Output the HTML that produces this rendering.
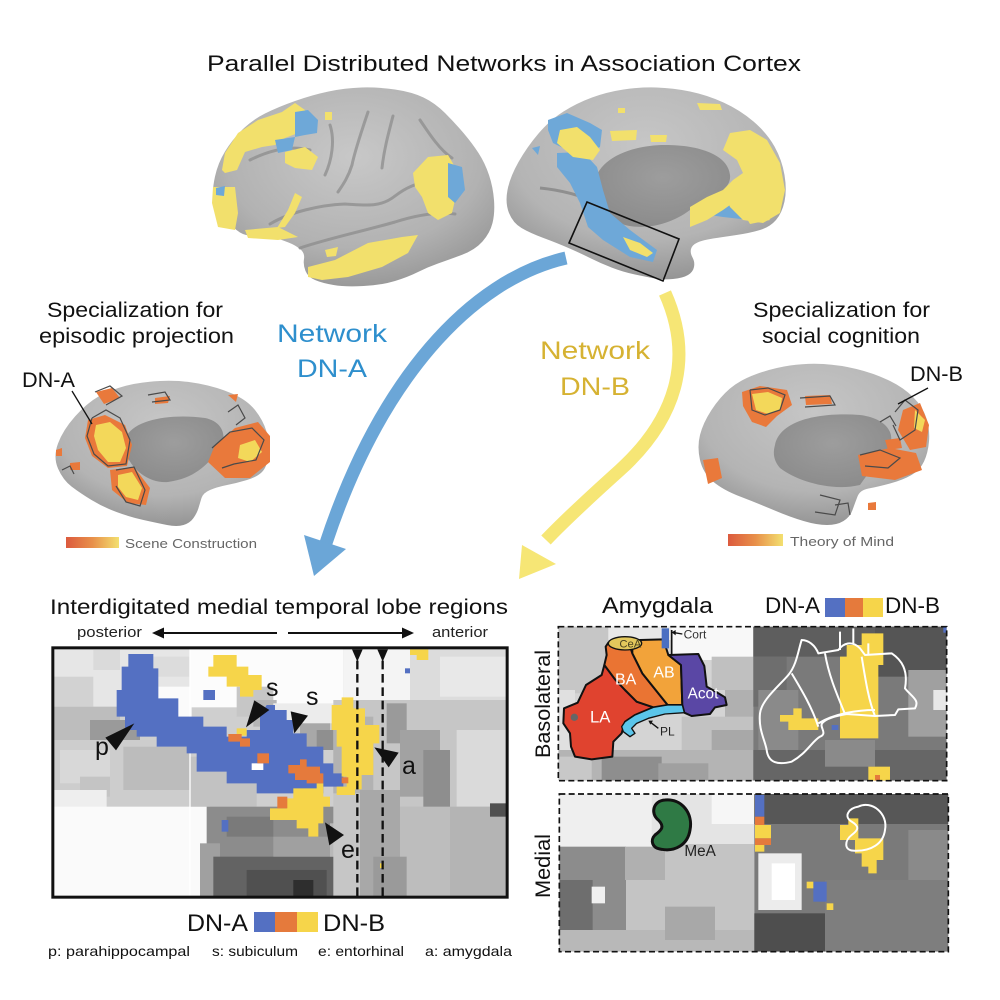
<!DOCTYPE html>
<html><head><meta charset="utf-8"><style>
html,body{margin:0;padding:0;background:#fff;}
svg{display:block;}
text{font-family:"Liberation Sans",sans-serif;}
</style></head><body>
<svg width="1000" height="1000" viewBox="0 0 1000 1000" xmlns="http://www.w3.org/2000/svg">
<defs>
<radialGradient id="bg1" cx="50%" cy="35%" r="70%">
<stop offset="0" stop-color="#c8c8c8"/><stop offset="0.65" stop-color="#b2b2b2"/><stop offset="1" stop-color="#939393"/>
</radialGradient>
<radialGradient id="bg2" cx="50%" cy="30%" r="70%">
<stop offset="0" stop-color="#c6c6c6"/><stop offset="0.7" stop-color="#b4b4b4"/><stop offset="1" stop-color="#959595"/>
</radialGradient>
<radialGradient id="mw" cx="50%" cy="40%" r="60%">
<stop offset="0" stop-color="#9d9d9d"/><stop offset="1" stop-color="#8c8c8c"/>
</radialGradient>
<linearGradient id="cb" x1="0" x2="1" y1="0" y2="0">
<stop offset="0" stop-color="#dc5a3e"/><stop offset="0.5" stop-color="#e8904a"/><stop offset="1" stop-color="#f3e070"/>
</linearGradient>
<clipPath id="c1"><rect x="40" y="172" width="1362" height="750"/></clipPath>
<clipPath id="c2"><rect x="100" y="110" width="1165" height="462"/></clipPath>
<clipPath id="c3"><rect x="103" y="42" width="1167" height="473"/></clipPath>
</defs>

<!-- Title -->
<text x="207" y="71" font-size="22" textLength="594" lengthAdjust="spacingAndGlyphs" fill="#111">Parallel Distributed Networks in Association Cortex</text>

<!-- Left lateral brain -->
<path d="M213.5,198.5 Q212,190 215,176.5 Q218,163 225,151.5 Q232,140 242,130 Q252,120 265,113.5 Q278,107 295,101 Q312,95 328.5,91.5 Q345,88 361.5,87.5 Q378,87 395,89.5 Q412,92 423.5,97.5 Q435,103 445,113 Q455,123 463.5,133 Q472,143 478.5,153 Q485,163 489,175 Q493,187 494,200 Q495,213 492.5,223 Q490,233 482.5,241.5 Q475,250 461.5,255 Q448,260 438,263.5 Q428,267 418,272 Q408,277 395,281 Q382,285 363.5,286 Q345,287 333.5,285 Q322,283 315,280 Q308,277 305.5,271 Q303,265 304,259 Q305,253 300,249 Q295,245 288.5,242.5 Q282,240 272,236.5 Q262,233 253.5,235 Q245,237 236.5,230 Q228,223 221.5,215 Q215,207 213.5,198.5 Z" fill="url(#bg1)"/>
<g fill="none" stroke="#8a8a8a" stroke-width="3" stroke-linecap="round" opacity="0.7">
<path d="M270,224 C290,212 320,205 345,204 C365,205 380,208 395,196 C408,186 420,182 430,183"/>
<path d="M368,112 C362,130 355,150 352,165 C348,178 342,186 338,192"/>
<path d="M393,116 C388,135 384,150 382,168"/>
<path d="M300,248 C330,238 360,232 395,222 C420,214 440,212 455,214"/>
<path d="M250,160 C270,150 290,145 310,150"/>
<path d="M330,125 C335,140 332,160 325,175"/>
<path d="M420,120 C430,135 440,150 452,158"/>
</g>
<g fill="#f2e06c">
<polygon points="222,170 225,153 238,133 258,120 282,112 295,103 305,110 305,123 298,133 285,138 275,145 262,147 245,152 237,170 225,173"/>
<polygon points="285,152 305,147 318,157 312,170 295,168 285,163"/>
<polygon points="325,112 332,112 332,120 325,120"/>
<polygon points="213,187 235,187 238,213 235,230 218,227 212,203"/>
<polygon points="295,193 302,197 295,213 285,227 277,228 288,210"/>
<polygon points="245,230 278,227 298,237 278,240 248,238"/>
<polygon points="413,173 428,157 448,155 455,167 458,187 452,213 438,220 428,213 422,197 415,187"/>
<polygon points="308,267 335,260 368,243 402,237 418,235 408,253 382,267 348,277 322,280 308,277"/>
<polygon points="325,250 338,247 336,256 327,257"/>
</g>
<g fill="#6ea8d8">
<polygon points="295,112 308,110 318,120 317,133 305,135 295,137"/>
<polygon points="275,140 295,137 292,150 278,153"/>
<polygon points="448,163 462,167 465,190 455,203 448,197"/>
<polygon points="216,188 225,186 224,196 216,195"/>
</g>

<!-- Right medial brain -->
<path d="M509,213 Q505,203 507.5,190 Q510,177 518.5,162 Q527,147 538.5,133.5 Q550,120 563.5,111.5 Q577,103 592,97.5 Q607,92 623.5,89.5 Q640,87 656.5,87.5 Q673,88 690,91.5 Q707,95 723.5,102.5 Q740,110 753.5,121.5 Q767,133 774.5,146.5 Q782,160 784.5,175 Q787,190 784.5,201.5 Q782,213 776,220 Q770,227 760,230 Q750,233 736.5,235 Q723,237 713,238.5 Q703,240 697.5,242.5 Q692,245 691,249 Q690,253 692.5,257.5 Q695,262 694,267 Q693,272 688,275 Q683,278 673,279 Q663,280 655,278.5 Q647,277 635,274.5 Q623,272 611.5,267.5 Q600,263 590,258 Q580,253 568.5,248 Q557,243 543.5,238 Q530,233 521.5,228 Q513,223 509,213 Z" fill="url(#bg2)"/>
<path d="M595,185 C595,160 630,145 665,145 C700,145 728,155 730,175 C732,192 705,200 690,210 C670,225 645,230 625,225 C605,218 595,205 595,185 Z" fill="url(#mw)"/>
<path d="M540,188 C560,190 580,195 597,203" fill="none" stroke="#7e7e7e" stroke-width="3" opacity="0.7"/>
<g fill="#6ea8d8">
<polygon points="548,120 567,113 590,123 602,130 600,147 587,153 567,150 553,143 548,130"/>
<polygon points="557,153 583,152 597,167 603,190 610,213 630,230 657,250 653,262 630,257 603,240 588,227 580,203 570,183 557,167"/>
<polygon points="697,203 723,193 750,197 773,203 773,217 750,220 723,217 697,213"/>
<polygon points="532,148 540,146 538,155"/>
</g>
<g fill="#f2e06c">
<polygon points="560,130 577,127 590,137 600,150 593,160 573,157 557,143"/>
<polygon points="610,131 637,130 636,140 612,141"/>
<polygon points="650,135 667,135 666,142 651,142"/>
<polygon points="618,108 625,108 625,113 618,113"/>
<polygon points="697,103 720,104 722,110 700,110"/>
<polygon points="730,133 750,130 767,140 780,163 785,190 780,213 763,223 743,220 730,207 723,190 733,180 743,173 737,160 723,150"/>
<polygon points="690,207 707,197 723,190 737,200 723,210 707,220 690,227"/>
<polygon points="742,210 760,208 770,220 750,224"/>
<polygon points="623,237 640,243 653,253 647,257 630,250"/>
</g>
<polygon points="587,202 679,239 663,281 569,243" fill="none" stroke="#111" stroke-width="1.6"/>

<!-- Arrows -->
<path d="M566,258 C470,280 380,380 326,543" fill="none" stroke="#6ba6d7" stroke-width="13"/>
<polygon points="304,535 346,549 314,576" fill="#6ba6d7"/>
<path d="M665,293 C695,360 675,420 620,470 C590,497 565,520 546,540" fill="none" stroke="#f6e675" stroke-width="13"/>
<polygon points="522,545 556,564 519,579" fill="#f6e675"/>

<text x="277" y="342" font-size="25" textLength="110" lengthAdjust="spacingAndGlyphs" fill="#2e8fcd">Network</text>
<text x="297" y="377" font-size="25" textLength="70" lengthAdjust="spacingAndGlyphs" fill="#2e8fcd">DN-A</text>
<text x="540" y="359" font-size="25" textLength="110" lengthAdjust="spacingAndGlyphs" fill="#d6b232">Network</text>
<text x="560" y="395" font-size="25" textLength="70" lengthAdjust="spacingAndGlyphs" fill="#d6b232">DN-B</text>

<!-- Left specialization -->
<text x="47" y="317" font-size="21" textLength="176" lengthAdjust="spacingAndGlyphs" fill="#111">Specialization for</text>
<text x="39" y="343" font-size="21" textLength="195" lengthAdjust="spacingAndGlyphs" fill="#111">episodic projection</text>
<path d="M58,468.5 Q53,457 58,443.5 Q63,430 75,416.5 Q87,403 98.5,396.5 Q110,390 125,386 Q140,382 160,381 Q180,380 198.5,383.5 Q217,387 232,393.5 Q247,400 255,410 Q263,420 266.5,431.5 Q270,443 268.5,455 Q267,467 262,472 Q257,477 247,480 Q237,483 227,485 Q217,487 210,490 Q203,493 201.5,498 Q200,503 198.5,508 Q197,513 193.5,518 Q190,523 183.5,525 Q177,527 167,525 Q157,523 143.5,520 Q130,517 116.5,512 Q103,507 91.5,500 Q80,493 71.5,486.5 Q63,480 58,468.5 Z" fill="url(#bg2)"/>
<path d="M125,440 C130,420 170,413 205,418 C225,422 228,440 218,452 C205,466 195,478 168,482 C145,484 122,462 125,440 Z" fill="url(#mw)"/>
<g fill="#e9793b">
<polygon points="88,420 105,415 125,425 132,445 127,466 108,468 92,456 85,438"/>
<polygon points="110,470 134,467 150,488 146,505 128,503 112,490"/>
<polygon points="215,445 235,428 258,422 270,436 270,462 250,478 225,478 208,462"/>
<polygon points="96,392 112,388 120,398 104,404"/>
<polygon points="56,450 62,448 62,456 56,456"/>
<polygon points="70,463 80,462 80,470 70,470"/>
<polygon points="155,398 170,396 168,403 155,404"/>
<polygon points="228,395 238,394 236,402"/>
</g>
<g fill="#f3d85a">
<polygon points="96,425 110,422 122,432 126,448 120,462 108,462 98,450 94,436"/>
<polygon points="118,475 132,472 142,488 138,500 126,497 118,487"/>
<polygon points="240,445 255,440 262,452 250,462 238,458"/>
</g>
<g fill="none" stroke="#4a4a4a" stroke-width="1.2">
<polyline points="92,418 106,410 120,418 130,440 126,464 108,466 94,454 87,436 92,418"/>
<polyline points="116,470 134,467 145,490 140,506 126,502 116,486"/>
<polyline points="212,448 230,432 252,428 264,440 256,460 234,464 222,468"/>
<polyline points="95,392 110,386 122,396 106,405"/>
<polyline points="148,395 165,392 170,400 152,402"/>
<polyline points="228,412 238,405 245,418 236,425"/>
<polyline points="62,470 70,466 74,474"/>
</g>
<line x1="72" y1="391" x2="92" y2="424" stroke="#111" stroke-width="1.3"/>
<text x="22" y="387" font-size="21" textLength="53" lengthAdjust="spacingAndGlyphs" fill="#111">DN-A</text>
<rect x="66" y="537" width="53" height="11" fill="url(#cb)"/>
<text x="125" y="548" font-size="13" textLength="132" lengthAdjust="spacingAndGlyphs" fill="#666">Scene Construction</text>

<!-- Right specialization -->
<text x="753" y="317" font-size="21" textLength="177" lengthAdjust="spacingAndGlyphs" fill="#111">Specialization for</text>
<text x="762" y="343" font-size="21" textLength="158" lengthAdjust="spacingAndGlyphs" fill="#111">social cognition</text>
<path d="M700,460 Q697,447 700,435 Q703,423 711.5,410 Q720,397 730,388.5 Q740,380 756.5,374 Q773,368 790,365.5 Q807,363 823.5,364 Q840,365 856.5,369 Q873,373 888,380 Q903,387 913,397 Q923,407 926.5,418.5 Q930,430 929,441.5 Q928,453 924,461.5 Q920,470 911.5,475 Q903,480 890,483.5 Q877,487 868.5,488.5 Q860,490 857.5,496.5 Q855,503 852.5,510 Q850,517 843.5,521 Q837,525 827,525 Q817,525 803.5,521 Q790,517 773.5,510 Q757,503 740,496.5 Q723,490 713,481.5 Q703,473 700,460 Z" fill="url(#bg2)"/>
<path d="M775,445 C780,420 820,412 860,415 C885,418 895,432 890,445 C880,460 870,470 860,485 C830,492 795,480 780,468 C773,460 773,452 775,445 Z" fill="url(#mw)"/>
<g fill="#e9793b">
<polygon points="742,392 760,386 787,390 792,405 777,416 766,427 752,422 743,406"/>
<polygon points="903,410 920,403 929,425 926,447 910,450 898,430"/>
<polygon points="858,455 890,448 916,453 922,470 895,480 862,476"/>
<polygon points="703,460 718,458 722,478 708,484"/>
<polygon points="805,396 830,395 832,404 806,405"/>
<polygon points="868,503 876,502 876,510 868,510"/>
<polygon points="885,440 900,438 902,448 888,450"/>
</g>
<g fill="#f3d85a">
<polygon points="752,394 768,392 782,398 780,410 768,414 756,410"/>
<polygon points="915,410 925,420 922,432 914,428"/>
</g>
<g fill="none" stroke="#4a4a4a" stroke-width="1.2">
<polyline points="750,390 768,388 785,395 780,410 765,415 752,410 750,390"/>
<polyline points="800,398 830,396 835,405 805,407"/>
<polyline points="895,412 905,400 918,410 915,430 900,440 893,425"/>
<polyline points="860,455 880,450 900,458 888,468 865,466"/>
<polyline points="820,495 840,500 835,515 815,512"/>
<polyline points="880,422 890,416 896,426"/>
<polyline points="835,505 848,503 850,515"/>
</g>
<line x1="928" y1="388" x2="898" y2="404" stroke="#111" stroke-width="1.3"/>
<text x="910" y="381" font-size="21" textLength="53" lengthAdjust="spacingAndGlyphs" fill="#111">DN-B</text>
<rect x="728" y="534" width="55" height="12" fill="url(#cb)"/>
<text x="790" y="546" font-size="13" textLength="104" lengthAdjust="spacingAndGlyphs" fill="#666">Theory of Mind</text>

<!-- Bottom-left MTL panel -->
<text x="50" y="614" font-size="21" textLength="458" lengthAdjust="spacingAndGlyphs" fill="#111">Interdigitated medial temporal lobe regions</text>
<text x="77" y="637" font-size="15" textLength="65" lengthAdjust="spacingAndGlyphs" fill="#222">posterior</text>
<text x="432" y="637" font-size="15" textLength="56" lengthAdjust="spacingAndGlyphs" fill="#222">anterior</text>
<line x1="162" y1="633" x2="277" y2="633" stroke="#111" stroke-width="2"/>
<polygon points="152,633 164,627.5 164,638.5" fill="#111"/>
<line x1="288" y1="633" x2="404" y2="633" stroke="#111" stroke-width="2"/>
<polygon points="414,633 402,627.5 402,638.5" fill="#111"/>

<g transform="translate(40,590) scale(0.33333)">
<g clip-path="url(#c1)">
<rect x="40" y="172" width="1362" height="750" fill="#cfcfcf"/>
<rect x="40" y="172" width="410" height="180" fill="#e6e6e6"/>
<rect x="40" y="260" width="120" height="90" fill="#d2d2d2"/>
<rect x="160" y="180" width="80" height="60" fill="#dadada"/>
<rect x="330" y="200" width="120" height="60" fill="#dcdcdc"/>
<rect x="450" y="172" width="460" height="180" fill="#fcfcfc"/>
<rect x="355" y="290" width="100" height="90" fill="#fbfbfb"/>
<rect x="590" y="290" width="110" height="90" fill="#c6c6c6"/>
<rect x="640" y="330" width="70" height="80" fill="#b5b5b5"/>
<rect x="700" y="340" width="180" height="60" fill="#ececec"/>
<rect x="780" y="400" width="90" height="80" fill="#a8a8a8"/>
<rect x="830" y="420" width="60" height="60" fill="#8f8f8f"/>
<rect x="40" y="350" width="200" height="100" fill="#bdbdbd"/>
<rect x="150" y="390" width="150" height="80" fill="#9a9a9a"/>
<rect x="40" y="450" width="420" height="200" fill="#cdcdcd"/>
<rect x="60" y="480" width="150" height="100" fill="#d8d8d8"/>
<rect x="250" y="470" width="200" height="130" fill="#bcbcbc"/>
<rect x="120" y="560" width="90" height="60" fill="#c4c4c4"/>
<rect x="40" y="600" width="160" height="60" fill="#eeeeee"/>
<rect x="40" y="650" width="470" height="272" fill="#fafafa"/>
<rect x="450" y="500" width="200" height="150" fill="#c2c2c2"/>
<rect x="500" y="650" width="460" height="272" fill="#8c8c8c"/>
<rect x="480" y="760" width="60" height="162" fill="#a0a0a0"/>
<rect x="560" y="680" width="140" height="60" fill="#7a7a7a"/>
<rect x="520" y="800" width="400" height="122" fill="#636363"/>
<rect x="620" y="840" width="240" height="82" fill="#505050"/>
<rect x="760" y="870" width="60" height="52" fill="#2e2e2e"/>
<rect x="700" y="740" width="250" height="60" fill="#a0a0a0"/>
<rect x="870" y="700" width="80" height="100" fill="#b8b8b8"/>
<rect x="910" y="172" width="200" height="160" fill="#f4f4f4"/>
<rect x="1110" y="172" width="292" height="160" fill="#dcdcdc"/>
<rect x="1200" y="200" width="200" height="120" fill="#e8e8e8"/>
<rect x="880" y="330" width="522" height="592" fill="#c6c6c6"/>
<rect x="880" y="380" width="120" height="230" fill="#b2b2b2"/>
<rect x="1040" y="340" width="60" height="120" fill="#9a9a9a"/>
<rect x="1080" y="420" width="120" height="200" fill="#a2a2a2"/>
<rect x="1150" y="480" width="80" height="180" fill="#8e8e8e"/>
<rect x="1250" y="420" width="152" height="230" fill="#dadada"/>
<rect x="1230" y="650" width="172" height="272" fill="#b4b4b4"/>
<rect x="1350" y="640" width="52" height="40" fill="#505050"/>
<rect x="960" y="600" width="120" height="322" fill="#a8a8a8"/>
<rect x="1080" y="650" width="150" height="272" fill="#bdbdbd"/>
<rect x="1000" y="800" width="100" height="122" fill="#9a9a9a"/>
<line x1="450" y1="172" x2="450" y2="922" stroke="#fff" stroke-width="4"/>

<!-- DN-A blue -->
<polygon fill="#5470c2" points="265,192 340,192 340,235 355,235 355,325 415,325 415,380 490,380 490,410 560,410 560,440 620,440 620,420 660,420 660,380 680,345 705,345 705,360 740,360 740,390 760,390 760,430 800,430 800,470 850,470 850,520 880,520 880,550 910,550 910,590 850,590 850,610 650,610 650,580 560,580 560,545 470,545 470,490 440,490 440,470 350,470 350,440 290,440 290,420 255,420 255,380 230,380 230,300 245,300 245,230 265,230"/>
<rect x="490" y="300" width="35" height="30" fill="#5470c2"/>
<rect x="545" y="690" width="20" height="35" fill="#5470c2"/>
<rect x="1095" y="235" width="15" height="15" fill="#5470c2"/>
<rect x="635" y="520" width="35" height="20" fill="#fff"/>
<!-- yellow DN-B -->
<g fill="#f6d54a">
<polygon points="520,195 590,195 590,230 625,230 625,255 665,255 665,300 640,300 640,320 600,320 600,290 560,290 560,260 505,260 505,230 520,230"/>
<polygon points="905,322 940,322 940,355 975,355 975,405 1018,405 1018,460 1000,460 1000,555 965,555 965,598 945,598 945,615 890,615 890,590 920,590 920,560 905,560 905,470 890,470 890,420 875,420 875,345 905,345"/>
<polygon points="760,595 830,595 830,580 850,580 850,620 870,620 870,650 850,650 850,700 835,700 835,740 805,740 805,715 770,715 770,690 690,690 690,655 740,655 740,625 760,625"/>
<polygon points="1110,178 1165,178 1165,210 1130,210 1130,195 1110,195"/>
<rect x="590" y="415" width="30" height="22"/>
<rect x="1020" y="820" width="12" height="14"/>
</g>
<!-- orange overlap -->
<g fill="#e57a3c">
<polygon points="565,432 605,432 605,445 630,445 630,470 600,470 600,455 565,455"/>
<rect x="652" y="490" width="35" height="30"/>
<polygon points="780,508 800,508 800,530 840,530 840,550 850,550 850,580 800,580 800,570 765,570 765,550 745,550 745,525 780,525"/>
<rect x="712" y="620" width="30" height="35"/>
<rect x="905" y="562" width="20" height="18"/>
</g>
<!-- dashed lines -->
<line x1="952" y1="212" x2="952" y2="922" stroke="#111" stroke-width="7" stroke-dasharray="26,14"/>
<line x1="1028" y1="212" x2="1028" y2="922" stroke="#111" stroke-width="7" stroke-dasharray="26,14"/>
<polygon points="936,178 968,178 952,215" fill="#111"/>
<polygon points="1012,178 1044,178 1028,215" fill="#111"/>
<!-- black pointer arrows -->
<g fill="#111">
<polygon points="283,400 196,443 228,481"/>
<polygon points="618,412 643,331 688,360"/>
<polygon points="763,430 752,364 804,377"/>
<polygon points="1003,472 1076,488 1046,532"/>
<polygon points="855,697 868,766 912,735"/>
</g>
</g>
<rect x="38.5" y="173.5" width="1363" height="748" fill="none" stroke="#111" stroke-width="9"/>
</g>
<text x="95" y="755" font-size="25" fill="#111">p</text>
<text x="266" y="696" font-size="25" fill="#111">s</text>
<text x="306" y="705" font-size="25" fill="#111">s</text>
<text x="402" y="774" font-size="25" fill="#111">a</text>
<text x="341" y="858" font-size="25" fill="#111">e</text>

<!-- bottom legend -->
<text x="187" y="931" font-size="24" textLength="61" lengthAdjust="spacingAndGlyphs" fill="#111">DN-A</text>
<rect x="254" y="912" width="21" height="20" fill="#5470c2"/>
<rect x="275" y="912" width="22" height="20" fill="#e57a3c"/>
<rect x="297" y="912" width="21" height="20" fill="#f6d54a"/>
<text x="323" y="931" font-size="24" textLength="62" lengthAdjust="spacingAndGlyphs" fill="#111">DN-B</text>
<text x="48" y="956" font-size="14" textLength="142" lengthAdjust="spacingAndGlyphs" fill="#111">p: parahippocampal</text>
<text x="212" y="956" font-size="14" textLength="86" lengthAdjust="spacingAndGlyphs" fill="#111">s: subiculum</text>
<text x="318" y="956" font-size="14" textLength="86" lengthAdjust="spacingAndGlyphs" fill="#111">e: entorhinal</text>
<text x="425" y="956" font-size="14" textLength="87" lengthAdjust="spacingAndGlyphs" fill="#111">a: amygdala</text>

<!-- Amygdala -->
<text x="602" y="613" font-size="22" textLength="111" lengthAdjust="spacingAndGlyphs" fill="#111">Amygdala</text>
<text x="765" y="613" font-size="22" textLength="55" lengthAdjust="spacingAndGlyphs" fill="#111">DN-A</text>
<rect x="825" y="598" width="20" height="19" fill="#5470c2"/>
<rect x="845" y="598" width="18" height="19" fill="#e57a3c"/>
<rect x="863" y="598" width="20" height="19" fill="#f6d54a"/>
<text x="885" y="613" font-size="22" textLength="55" lengthAdjust="spacingAndGlyphs" fill="#111">DN-B</text>
<text transform="translate(550,704) rotate(-90)" x="0" y="0" font-size="21" text-anchor="middle" textLength="108" lengthAdjust="spacingAndGlyphs" fill="#111">Basolateral</text>
<text transform="translate(550,866) rotate(-90)" x="0" y="0" font-size="21" text-anchor="middle" textLength="64" lengthAdjust="spacingAndGlyphs" fill="#111">Medial</text>

<g transform="translate(525,590) scale(0.33333)">
<g clip-path="url(#c2)">
<rect x="100" y="110" width="585" height="462" fill="#d4d4d4"/>
<rect x="100" y="110" width="150" height="200" fill="#c6c6c6"/>
<rect x="250" y="110" width="200" height="40" fill="#e8e8e8"/>
<rect x="440" y="110" width="245" height="100" fill="#f8f8f8"/>
<rect x="560" y="200" width="125" height="100" fill="#c0c0c0"/>
<rect x="600" y="300" width="85" height="180" fill="#b0b0b0"/>
<rect x="470" y="380" width="215" height="100" fill="#c2c2c2"/>
<rect x="100" y="300" width="50" height="200" fill="#e0e0e0"/>
<rect x="100" y="480" width="585" height="92" fill="#b4b4b4"/>
<rect x="230" y="500" width="180" height="72" fill="#8e8e8e"/>
<rect x="400" y="520" width="150" height="52" fill="#a0a0a0"/>
<rect x="100" y="500" width="100" height="72" fill="#c8c8c8"/>
<rect x="560" y="420" width="125" height="60" fill="#a8a8a8"/>
<rect x="685" y="110" width="580" height="462" fill="#7a7a7a"/>
<rect x="685" y="110" width="580" height="90" fill="#5e5e5e"/>
<rect x="1050" y="110" width="215" height="150" fill="#555"/>
<rect x="685" y="200" width="100" height="150" fill="#6e6e6e"/>
<rect x="700" y="300" width="120" height="180" fill="#8a8a8a"/>
<rect x="1150" y="240" width="115" height="200" fill="#a0a0a0"/>
<rect x="1225" y="300" width="40" height="60" fill="#e8e8e8"/>
<rect x="685" y="480" width="580" height="92" fill="#666"/>
<rect x="900" y="450" width="150" height="80" fill="#8a8a8a"/>
<!-- nuclei -->
<g stroke="#111" stroke-width="6" stroke-linejoin="round">
<polygon fill="#e0432f" points="238,225 270,268 300,300 335,335 385,352 330,375 300,395 290,430 265,455 262,500 200,508 150,500 138,470 135,430 115,400 117,355 158,338 183,285 230,255"/>
<polygon fill="#ea7433" points="250,158 310,155 322,190 352,250 392,300 428,345 385,352 335,335 300,300 270,268 238,225 245,195 242,170"/>
<polygon fill="#f2a33a" points="322,165 345,150 415,148 430,195 468,225 472,345 428,345 392,300 352,250 322,190"/>
<polygon fill="#5a47a5" points="430,195 520,192 538,228 545,290 572,305 600,322 605,345 570,352 555,372 500,378 478,368 472,345 468,225"/>
<polygon fill="#5bc5ea" stroke-width="4" points="300,395 330,375 385,352 428,345 472,345 478,368 420,372 370,385 335,400 320,415 330,430 315,440 295,425 290,410"/>
<ellipse cx="300" cy="160" rx="50" ry="20" fill="#e3c85c" stroke-width="4"/>
</g>
<rect x="410" y="115" width="22" height="60" fill="#4a6fc2"/>
<line x1="440" y1="120" x2="440" y2="195" stroke="#111" stroke-width="5"/>
<circle cx="148" cy="382" r="11" fill="#666"/>
<text x="195" y="397" font-size="50" fill="#fff">LA</text>
<text x="270" y="283" font-size="48" fill="#fff">BA</text>
<text x="385" y="263" font-size="48" fill="#fff">AB</text>
<text x="488" y="326" font-size="46" fill="#fff">Acot</text>
<text x="283" y="172" font-size="34" fill="#4a4320">CeA</text>
<text x="476" y="145" font-size="36" fill="#333">Cort</text>
<text x="405" y="436" font-size="36" fill="#222">PL</text>
<line x1="472" y1="132" x2="448" y2="128" stroke="#111" stroke-width="4"/>
<polygon points="440,127 452,120 452,136" fill="#111"/>
<line x1="400" y1="415" x2="378" y2="398" stroke="#111" stroke-width="4"/>
<polygon points="370,392 384,392 376,404" fill="#111"/>
<!-- right panel yellow -->
<g fill="#f6d54a">
<polygon points="965,165 1010,165 1010,130 1075,130 1075,225 1060,225 1060,445 945,445 945,200 965,200"/>
<polygon points="765,375 805,375 805,355 830,355 830,385 880,385 880,420 790,420 790,395 765,395"/>
<rect x="1030" y="530" width="65" height="42"/>
</g>
<rect x="920" y="405" width="20" height="15" fill="#5470c2"/>
<rect x="1255" y="112" width="10" height="16" fill="#5470c2"/>
<rect x="1050" y="555" width="15" height="17" fill="#e57a3c"/>
<g fill="none" stroke="#fff" stroke-width="6" stroke-linejoin="round">
<path d="M830,150 C850,150 870,165 880,190 L940,180 C955,160 980,150 1005,175 L1020,195 L1100,190 C1130,210 1150,240 1140,295 C1160,320 1185,330 1170,355 L1120,358 L1110,375 L1050,378 L965,372 C930,378 905,385 893,398 C880,410 910,430 885,440 C860,455 845,490 800,515 C760,525 730,520 725,480 C720,450 700,420 705,370 C710,330 760,290 790,255 C815,225 820,180 830,150 Z"/>
<path d="M800,250 C830,300 860,350 880,410"/>
<path d="M900,190 C910,250 930,300 960,372"/>
<path d="M1010,200 C1020,260 1030,330 1050,378"/>
<path d="M880,400 C930,370 1000,360 1050,360"/>
<path d="M945,125 L945,180 M985,115 L985,160 M1030,160 L1030,195"/>
</g>
</g>
<rect x="100" y="110" width="1165" height="462" fill="none" stroke="#111" stroke-width="5" stroke-dasharray="18,10"/>
</g>

<g transform="translate(525,780) scale(0.33333)">
<g clip-path="url(#c3)">
<rect x="103" y="42" width="585" height="473" fill="#c4c4c4"/>
<rect x="103" y="42" width="280" height="160" fill="#efefef"/>
<rect x="380" y="42" width="310" height="150" fill="#e4e4e4"/>
<rect x="560" y="42" width="128" height="90" fill="#f6f6f6"/>
<rect x="103" y="200" width="200" height="315" fill="#8c8c8c"/>
<rect x="103" y="300" width="100" height="150" fill="#6e6e6e"/>
<rect x="300" y="200" width="120" height="100" fill="#b0b0b0"/>
<rect x="200" y="320" width="40" height="50" fill="#f0f0f0"/>
<rect x="103" y="450" width="585" height="65" fill="#b8b8b8"/>
<rect x="420" y="380" width="150" height="100" fill="#a8a8a8"/>
<rect x="688" y="42" width="582" height="473" fill="#7a7a7a"/>
<rect x="688" y="42" width="582" height="90" fill="#575757"/>
<rect x="700" y="220" width="130" height="170" fill="#ececec"/>
<rect x="740" y="250" width="70" height="110" fill="#fff"/>
<rect x="688" y="400" width="220" height="115" fill="#4e4e4e"/>
<rect x="900" y="300" width="370" height="215" fill="#7e7e7e"/>
<rect x="1150" y="150" width="120" height="150" fill="#8a8a8a"/>
<path d="M420,60 C470,55 505,100 495,150 C488,195 450,215 410,208 C380,205 375,180 390,165 C410,150 420,140 400,120 C375,100 385,62 420,60 Z" fill="#2f7a45" stroke="#111" stroke-width="9"/>
<text x="478" y="228" font-size="46" fill="#222">MeA</text>
<rect x="690" y="45" width="28" height="65" fill="#5470c2"/>
<rect x="690" y="110" width="28" height="25" fill="#e57a3c"/>
<rect x="690" y="135" width="48" height="40" fill="#f6d54a"/>
<rect x="690" y="175" width="48" height="20" fill="#e57a3c"/>
<rect x="690" y="195" width="28" height="20" fill="#f6d54a"/>
<polygon fill="#f6d54a" points="970,115 1000,115 1000,175 1075,175 1075,240 1055,240 1055,280 1030,280 1030,260 1010,260 1010,220 990,220 990,180 945,180 945,135 970,135"/>
<rect x="865" y="305" width="40" height="60" fill="#5470c2"/>
<rect x="845" y="305" width="20" height="20" fill="#f6d54a"/>
<rect x="905" y="370" width="20" height="20" fill="#f6d54a"/>
<path d="M1000,80 C1040,60 1090,100 1080,150 C1075,190 1040,215 985,212 C955,210 960,180 980,165 C1000,150 1005,140 980,125 C955,110 970,85 1000,80 Z" fill="none" stroke="#fff" stroke-width="6"/>
</g>
<rect x="103" y="42" width="1167" height="473" fill="none" stroke="#111" stroke-width="5" stroke-dasharray="18,10"/>
</g>
</svg>
</body></html>
